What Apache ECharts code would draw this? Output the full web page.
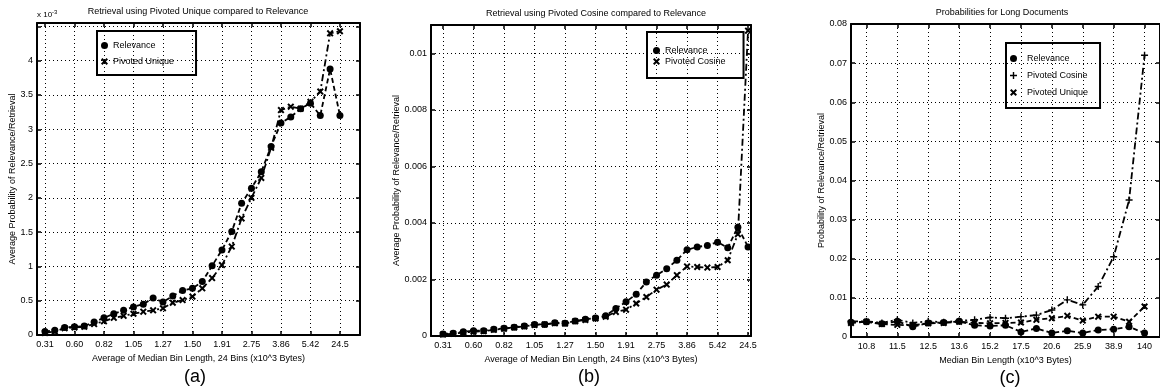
<!DOCTYPE html>
<html>
<head>
<meta charset="utf-8">
<script src="https://cdn.jsdelivr.net/npm/echarts@6/dist/echarts.min.js"></script>
<style>
  html, body { margin: 0; padding: 0; background: #fff; }
  #chart { width: 1160px; height: 391px; }
</style>
</head>
<body>
<div id="chart"></div>
<script>
// tick labels (one label every 3rd bin for a/b, every 2nd for c)
var binLabelsAB = ['0.31', '0.60', '0.82', '1.05', '1.27', '1.50', '1.91', '2.75', '3.86', '5.42', '24.5'];
var binLabelsC = ['10.8', '11.5', '12.5', '13.6', '15.2', '17.5', '20.6', '25.9', '38.9', '140'];

// (a) values in units of 10^-3
var relevanceA = [0.05, 0.07, 0.11, 0.12, 0.13, 0.19, 0.25, 0.31, 0.36, 0.41, 0.45, 0.54, 0.48, 0.57, 0.65, 0.68,
  0.78, 1.01, 1.24, 1.51, 1.92, 2.14, 2.38, 2.75, 3.09, 3.18, 3.30, 3.38, 3.20, 3.88, 3.20];
var pivotedUniqueA = [0.03, 0.05, 0.10, 0.11, 0.12, 0.16, 0.20, 0.25, 0.28, 0.31, 0.34, 0.36, 0.39, 0.47, 0.51, 0.56,
  0.68, 0.83, 1.02, 1.29, 1.70, 2.00, 2.29, 2.73, 3.28, 3.33, 3.30, 3.40, 3.55, 4.40, 4.43];

// (b) values in units of 10^-3 (axis shows raw probability)
var relevanceB = [0.07, 0.10, 0.15, 0.19, 0.19, 0.24, 0.27, 0.31, 0.35, 0.41, 0.41, 0.47, 0.45, 0.53, 0.59, 0.64,
  0.72, 0.97, 1.21, 1.48, 1.91, 2.15, 2.38, 2.68, 3.05, 3.15, 3.20, 3.32, 3.12, 3.85, 3.15];
var pivotedCosineB = [0.05, 0.08, 0.12, 0.15, 0.17, 0.22, 0.26, 0.30, 0.34, 0.39, 0.41, 0.45, 0.44, 0.52, 0.57, 0.62,
  0.68, 0.85, 0.93, 1.15, 1.38, 1.64, 1.82, 2.15, 2.46, 2.44, 2.42, 2.44, 2.68, 3.60, 10.8];

// (c) raw probabilities
var relevanceC = [0.0038, 0.0039, 0.0034, 0.0040, 0.0026, 0.0036, 0.0037, 0.0040, 0.0030, 0.0028, 0.0030, 0.0013,
  0.0022, 0.0010, 0.0016, 0.0010, 0.0018, 0.0020, 0.0026, 0.0010];
var pivotedCosineC = [0.0040, 0.0040, 0.0036, 0.0044, 0.0036, 0.0040, 0.0038, 0.0041, 0.0044, 0.0050, 0.0048, 0.0052,
  0.0056, 0.0069, 0.0095, 0.0082, 0.0129, 0.0205, 0.0350, 0.0720];
var pivotedUniqueC = [0.0036, 0.0039, 0.0033, 0.0031, 0.0030, 0.0035, 0.0036, 0.0039, 0.0036, 0.0035, 0.0036, 0.0037,
  0.0044, 0.0048, 0.0054, 0.0042, 0.0052, 0.0052, 0.0039, 0.0078];

var chart = echarts.init(document.getElementById('chart'));
var FONT = "'Liberation Sans Narrow', 'Liberation Sans', sans-serif";
var markX = 'path://M0,2L2,0L5,3L8,0L10,2L7,5L10,8L8,10L5,7L2,10L0,8L3,5Z';
var markPlus = 'path://M4,0H6V4H10V6H6V10H4V6H0V4H4Z';
var dotted = { type: [1, 3], color: '#000', width: 1 };
var frame = { show: true, onZero: false, lineStyle: { color: '#000', width: 2 } };

function pts(arr, k) {
  return arr.map(function (v, i) { return [i, v * k]; });
}

var panels = [
  { grid: { left: 37, top: 23, width: 323, height: 312 }, xMin: -0.81, xMax: 32.04, yMax: 4.55, yInt: 0.5, yLabelMax: 4,
    ticks: binLabelsAB.map(function (l, k) { return 3 * k; }), labels: binLabelsAB,
    xName: 'Average of Median Bin Length, 24 Bins (x10^3 Bytes)', yName: 'Average Probability of Relevance/Retrieval', yGap: 20 },
  { grid: { left: 431, top: 25, width: 320, height: 311 }, xMin: -1.18, xMax: 30.29, yMax: 0.011, yInt: 0.002, yLabelMax: 0.01,
    ticks: binLabelsAB.map(function (l, k) { return 3 * k; }), labels: binLabelsAB,
    xName: 'Average of Median Bin Length, 24 Bins (x10^3 Bytes)', yName: 'Average Probability of Relevance/Retrieval', yGap: 24 },
  { grid: { left: 851, top: 24, width: 312, height: 313 }, xMin: 0, xMax: 20, yMax: 0.08, yInt: 0.01, yLabelMax: 0.08,
    ticks: binLabelsC.map(function (l, k) { return 2 * k + 1; }), labels: binLabelsC,
    xName: 'Median Bin Length (x10^3 Bytes)', yName: 'Probability of Relevance/Retrieval', yGap: 24 }
];

var grids = [], xAxes = [], yAxes = [];
panels.forEach(function (p, i) {
  grids.push(p.grid);
  xAxes.push({
    type: 'value', gridIndex: i, min: p.xMin, max: p.xMax, position: 'bottom',
    axisLine: frame,
    axisTick: { inside: true, length: 4, customValues: p.ticks, lineStyle: { color: '#000', width: 1.5 } },
    axisLabel: {
      customValues: p.ticks, margin: 5, color: '#000', fontSize: 9, fontFamily: FONT,
      formatter: function (v) { return p.labels[p.ticks.indexOf(Math.round(v))] || ''; }
    },
    splitLine: { show: true, lineStyle: dotted },
    name: p.xName, nameLocation: 'middle', nameGap: 16,
    nameTextStyle: { color: '#000', fontSize: 9, fontFamily: FONT }
  });
  yAxes.push({
    type: 'value', gridIndex: i, min: 0, max: p.yMax, interval: p.yInt, position: 'left',
    axisLine: frame,
    axisTick: { inside: true, length: 4, lineStyle: { color: '#000', width: 1.5 } },
    axisLabel: {
      margin: 4, color: '#000', fontSize: 9, fontFamily: FONT, showMaxLabel: true,
      formatter: function (v) { return v > p.yLabelMax * 1.0001 ? '' : String(+v.toFixed(4)); }
    },
    splitLine: { show: true, lineStyle: dotted },
    name: p.yName, nameLocation: 'middle', nameRotate: 90, nameGap: p.yGap,
    nameTextStyle: { color: '#000', fontSize: 9, fontFamily: FONT }
  });
});
panels.forEach(function (p, i) {
  xAxes.push({
    type: 'value', gridIndex: i, min: p.xMin, max: p.xMax, position: 'top',
    axisLine: frame,
    axisTick: { inside: true, length: 4, customValues: p.ticks, lineStyle: { color: '#000', width: 1.5 } },
    axisLabel: { show: false }, splitLine: { show: false }
  });
  yAxes.push({
    type: 'value', gridIndex: i, min: 0, max: p.yMax, interval: p.yInt, position: 'right',
    axisLine: frame,
    axisTick: { inside: true, length: 4, lineStyle: { color: '#000', width: 1.5 } },
    axisLabel: { show: false }, splitLine: { show: false }
  });
});

function line(name, gi, data, symbol, size, dash) {
  return {
    name: name, type: 'line', xAxisIndex: gi, yAxisIndex: gi, data: data,
    symbol: symbol, symbolSize: size, showAllSymbol: true, animation: false,
    itemStyle: { color: '#000' },
    lineStyle: { color: '#000', width: 1.8, type: dash }
  };
}
var dashed = [5, 3];
var dashDot = [7, 3, 2, 3];

var series = [
  line('Relevance', 0, pts(relevanceA, 1), 'circle', 7, dashed),
  line('Pivoted Unique', 0, pts(pivotedUniqueA, 1), markX, 7, dashDot),
  line('Relevance', 1, pts(relevanceB, 0.001), 'circle', 7, dashed),
  line('Pivoted Cosine', 1, pts(pivotedCosineB, 0.001), markX, 7, dashDot),
  line('Relevance', 2, pts(relevanceC, 1), 'circle', 7, dashed),
  line('Pivoted Cosine', 2, pts(pivotedCosineC, 1), markPlus, 7, dashDot),
  line('Pivoted Unique', 2, pts(pivotedUniqueC, 1), markX, 7, dashed)
];

var legendBase = {
  orient: 'vertical', selectedMode: false, itemWidth: 7, itemHeight: 7,
  borderColor: '#000', borderWidth: 2, backgroundColor: 'transparent',
  textStyle: { color: '#000', fontSize: 9, fontFamily: FONT }
};

var option = {
  animation: false,
  grid: grids,
  xAxis: xAxes,
  yAxis: yAxes,
  legend: [
    Object.assign({}, legendBase, { left: 97, top: 31, padding: [10, 22, 9, 4], itemGap: 7,
      data: [{ name: 'Relevance', icon: 'circle' }, { name: 'Pivoted Unique', icon: markX }] }),
    Object.assign({}, legendBase, { left: 647, top: 32, padding: [14, 18, 12, 6], itemGap: 2,
      data: [{ name: 'Relevance', icon: 'circle' }, { name: 'Pivoted Cosine', icon: markX }] }),
    Object.assign({}, legendBase, { left: 1006, top: 43, padding: [11, 12, 11, 4], itemGap: 8,
      formatter: '  {name}',
      data: [{ name: 'Relevance', icon: 'circle' }, { name: 'Pivoted Cosine', icon: markPlus },
        { name: 'Pivoted Unique', icon: markX }] })
  ],
  graphic: [
    { type: 'text', x: 198, y: 12, style: { text: 'Retrieval using Pivoted Unique compared to Relevance', align: 'center', verticalAlign: 'middle', fill: '#000', font: '9px ' + FONT } },
    { type: 'text', x: 596, y: 14, style: { text: 'Retrieval using Pivoted Cosine compared to Relevance', align: 'center', verticalAlign: 'middle', fill: '#000', font: '9px ' + FONT } },
    { type: 'text', x: 1002, y: 13, style: { text: 'Probabilities for Long Documents', align: 'center', verticalAlign: 'middle', fill: '#000', font: '9px ' + FONT } },
    { type: 'text', x: 37, y: 15, style: { text: '{b|x 10}{s|-3}', verticalAlign: 'middle', fill: '#000',
      rich: { b: { fontSize: 8, fontFamily: FONT }, s: { fontSize: 6, fontFamily: FONT, verticalAlign: 'top', padding: [0, 0, 5, 0] } } } },
    { type: 'text', x: 195, y: 377, style: { text: '(a)', align: 'center', verticalAlign: 'middle', fill: '#000', font: '18px "Liberation Sans"' } },
    { type: 'text', x: 589, y: 377, style: { text: '(b)', align: 'center', verticalAlign: 'middle', fill: '#000', font: '18px "Liberation Sans"' } },
    { type: 'text', x: 1010, y: 378, style: { text: '(c)', align: 'center', verticalAlign: 'middle', fill: '#000', font: '18px "Liberation Sans"' } }
  ],
  series: series
};

chart.setOption(option);
</script>
</body>
</html>
